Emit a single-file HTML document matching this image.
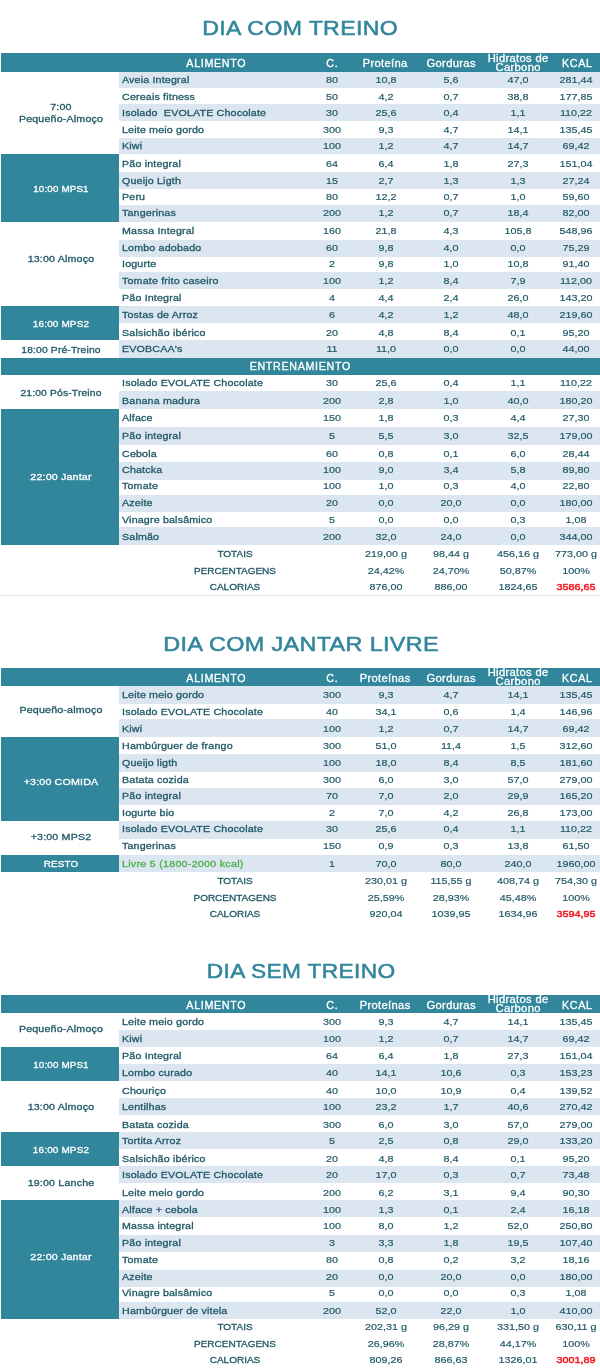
<!DOCTYPE html>
<html><head><meta charset="utf-8"><title>Dieta</title><style>
html,body{margin:0;padding:0;background:#fff}
body{will-change:transform;width:600px;height:1368px;position:relative;overflow:hidden;font-family:"Liberation Sans",sans-serif;font-size:9.4px;color:#215967}
.b{position:absolute}
.t{position:absolute;height:20px;line-height:20px;white-space:nowrap;-webkit-text-stroke:0.3px currentColor;font-size:9.4px;transform:scaleX(1.138)}
.l{transform-origin:0 50%}
.c{text-align:center}
.lc{letter-spacing:0.15px}
.caps{letter-spacing:0.65px;text-indent:0.65px}
.caps2{transform:scaleX(1.065);letter-spacing:0}
.hl{letter-spacing:0.3px;text-indent:0.3px}
.h.hl{transform:scaleX(1.1)}
.h{color:#fff;font-size:10.2px;transform:scaleX(1.05)}
.w{color:#fff}
.n{letter-spacing:0;transform:scaleX(1.15);-webkit-text-stroke:0.18px currentColor}
.g{color:#4db04a;letter-spacing:0.24px}
.red{color:#f2141c;-webkit-text-stroke:0.45px currentColor}
.title{position:absolute;width:600px;text-align:center;white-space:nowrap;letter-spacing:0.3px;text-indent:0.3px;font-size:20px;height:30px;line-height:30px;color:#31869b;-webkit-text-stroke:0.5px currentColor}
</style></head><body>
<div class="title" style="left:0px;top:13.07px;transform:scaleX(1.155)">DIA COM TREINO</div>
<div class="b" style="left:1px;top:53px;width:599px;height:19px;background:#31869b"></div>
<div class="t c h caps" style="left:65.7px;top:53.62px;width:300px;">ALIMENTO</div>
<div class="t c h caps" style="left:181.5px;top:53.62px;width:300px;">C.</div>
<div class="t c h hl" style="left:235.3px;top:53.62px;width:300px;">Proteína</div>
<div class="t c h hl" style="left:301.0px;top:53.62px;width:300px;">Gorduras</div>
<div class="b" style="left:457.6px;top:53px;width:120px;height:19px;overflow:hidden"><div class="t c h hl" style="left:0;top:-3.86px;width:120px">Hidratos de</div><div class="t c h hl" style="left:0;top:4.94px;width:120px">Carbono</div></div>
<div class="t c h caps" style="left:427.0px;top:53.62px;width:300px;">KCAL</div>
<div class="b" style="left:119px;top:72px;width:481px;height:16px;background:#dce6f1"></div>
<div class="t l lc " style="left:122.0px;top:70.04px;">Aveia Integral</div>
<div class="t c n" style="left:181.5px;top:70.04px;width:300px;">80</div>
<div class="t c n" style="left:236.0px;top:70.04px;width:300px;">10,8</div>
<div class="t c n" style="left:301.0px;top:70.04px;width:300px;">5,6</div>
<div class="t c n" style="left:368.0px;top:70.04px;width:300px;">47,0</div>
<div class="t c n" style="left:426.0px;top:70.04px;width:300px;">281,44</div>
<div class="t l lc " style="left:122.0px;top:86.74px;">Cereais fitness</div>
<div class="t c n" style="left:181.5px;top:86.74px;width:300px;">50</div>
<div class="t c n" style="left:236.0px;top:86.74px;width:300px;">4,2</div>
<div class="t c n" style="left:301.0px;top:86.74px;width:300px;">0,7</div>
<div class="t c n" style="left:368.0px;top:86.74px;width:300px;">38,8</div>
<div class="t c n" style="left:426.0px;top:86.74px;width:300px;">177,85</div>
<div class="b" style="left:119px;top:104px;width:481px;height:17px;background:#dce6f1"></div>
<div class="t l lc " style="left:122.0px;top:102.74px;">Isolado&nbsp; EVOLATE Chocolate</div>
<div class="t c n" style="left:181.5px;top:102.74px;width:300px;">30</div>
<div class="t c n" style="left:236.0px;top:102.74px;width:300px;">25,6</div>
<div class="t c n" style="left:301.0px;top:102.74px;width:300px;">0,4</div>
<div class="t c n" style="left:368.0px;top:102.74px;width:300px;">1,1</div>
<div class="t c n" style="left:426.0px;top:102.74px;width:300px;">110,22</div>
<div class="t l lc " style="left:122.0px;top:119.64px;">Leite meio gordo</div>
<div class="t c n" style="left:181.5px;top:119.64px;width:300px;">300</div>
<div class="t c n" style="left:236.0px;top:119.64px;width:300px;">9,3</div>
<div class="t c n" style="left:301.0px;top:119.64px;width:300px;">4,7</div>
<div class="t c n" style="left:368.0px;top:119.64px;width:300px;">14,1</div>
<div class="t c n" style="left:426.0px;top:119.64px;width:300px;">135,45</div>
<div class="b" style="left:119px;top:138px;width:481px;height:16px;background:#dce6f1"></div>
<div class="t l lc " style="left:122.0px;top:135.64px;">Kiwi</div>
<div class="t c n" style="left:181.5px;top:135.64px;width:300px;">100</div>
<div class="t c n" style="left:236.0px;top:135.64px;width:300px;">1,2</div>
<div class="t c n" style="left:301.0px;top:135.64px;width:300px;">4,7</div>
<div class="t c n" style="left:368.0px;top:135.64px;width:300px;">14,7</div>
<div class="t c n" style="left:426.0px;top:135.64px;width:300px;">69,42</div>
<div class="t l lc " style="left:122.0px;top:154.04px;">Pão integral</div>
<div class="t c n" style="left:181.5px;top:154.04px;width:300px;">64</div>
<div class="t c n" style="left:236.0px;top:154.04px;width:300px;">6,4</div>
<div class="t c n" style="left:301.0px;top:154.04px;width:300px;">1,8</div>
<div class="t c n" style="left:368.0px;top:154.04px;width:300px;">27,3</div>
<div class="t c n" style="left:426.0px;top:154.04px;width:300px;">151,04</div>
<div class="b" style="left:119px;top:172px;width:481px;height:17px;background:#dce6f1"></div>
<div class="t l lc " style="left:122.0px;top:170.74px;">Queijo Ligth</div>
<div class="t c n" style="left:181.5px;top:170.74px;width:300px;">15</div>
<div class="t c n" style="left:236.0px;top:170.74px;width:300px;">2,7</div>
<div class="t c n" style="left:301.0px;top:170.74px;width:300px;">1,3</div>
<div class="t c n" style="left:368.0px;top:170.74px;width:300px;">1,3</div>
<div class="t c n" style="left:426.0px;top:170.74px;width:300px;">27,24</div>
<div class="t l lc " style="left:122.0px;top:186.74px;">Peru</div>
<div class="t c n" style="left:181.5px;top:186.74px;width:300px;">80</div>
<div class="t c n" style="left:236.0px;top:186.74px;width:300px;">12,2</div>
<div class="t c n" style="left:301.0px;top:186.74px;width:300px;">0,7</div>
<div class="t c n" style="left:368.0px;top:186.74px;width:300px;">1,0</div>
<div class="t c n" style="left:426.0px;top:186.74px;width:300px;">59,60</div>
<div class="b" style="left:119px;top:205px;width:481px;height:17px;background:#dce6f1"></div>
<div class="t l lc " style="left:122.0px;top:203.44px;">Tangerinas</div>
<div class="t c n" style="left:181.5px;top:203.44px;width:300px;">200</div>
<div class="t c n" style="left:236.0px;top:203.44px;width:300px;">1,2</div>
<div class="t c n" style="left:301.0px;top:203.44px;width:300px;">0,7</div>
<div class="t c n" style="left:368.0px;top:203.44px;width:300px;">18,4</div>
<div class="t c n" style="left:426.0px;top:203.44px;width:300px;">82,00</div>
<div class="t l lc " style="left:122.0px;top:221.04px;">Massa Integral</div>
<div class="t c n" style="left:181.5px;top:221.04px;width:300px;">160</div>
<div class="t c n" style="left:236.0px;top:221.04px;width:300px;">21,8</div>
<div class="t c n" style="left:301.0px;top:221.04px;width:300px;">4,3</div>
<div class="t c n" style="left:368.0px;top:221.04px;width:300px;">105,8</div>
<div class="t c n" style="left:426.0px;top:221.04px;width:300px;">548,96</div>
<div class="b" style="left:119px;top:240px;width:481px;height:17px;background:#dce6f1"></div>
<div class="t l lc " style="left:122.0px;top:238.04px;">Lombo adobado</div>
<div class="t c n" style="left:181.5px;top:238.04px;width:300px;">60</div>
<div class="t c n" style="left:236.0px;top:238.04px;width:300px;">9,8</div>
<div class="t c n" style="left:301.0px;top:238.04px;width:300px;">4,0</div>
<div class="t c n" style="left:368.0px;top:238.04px;width:300px;">0,0</div>
<div class="t c n" style="left:426.0px;top:238.04px;width:300px;">75,29</div>
<div class="t l lc " style="left:122.0px;top:253.64px;">Iogurte</div>
<div class="t c n" style="left:181.5px;top:253.64px;width:300px;">2</div>
<div class="t c n" style="left:236.0px;top:253.64px;width:300px;">9,8</div>
<div class="t c n" style="left:301.0px;top:253.64px;width:300px;">1,0</div>
<div class="t c n" style="left:368.0px;top:253.64px;width:300px;">10,8</div>
<div class="t c n" style="left:426.0px;top:253.64px;width:300px;">91,40</div>
<div class="b" style="left:119px;top:272px;width:481px;height:17px;background:#dce6f1"></div>
<div class="t l lc " style="left:122.0px;top:270.74px;">Tomate frito caseiro</div>
<div class="t c n" style="left:181.5px;top:270.74px;width:300px;">100</div>
<div class="t c n" style="left:236.0px;top:270.74px;width:300px;">1,2</div>
<div class="t c n" style="left:301.0px;top:270.74px;width:300px;">8,4</div>
<div class="t c n" style="left:368.0px;top:270.74px;width:300px;">7,9</div>
<div class="t c n" style="left:426.0px;top:270.74px;width:300px;">112,00</div>
<div class="t l lc " style="left:122.0px;top:288.04px;">Pão Integral</div>
<div class="t c n" style="left:181.5px;top:288.04px;width:300px;">4</div>
<div class="t c n" style="left:236.0px;top:288.04px;width:300px;">4,4</div>
<div class="t c n" style="left:301.0px;top:288.04px;width:300px;">2,4</div>
<div class="t c n" style="left:368.0px;top:288.04px;width:300px;">26,0</div>
<div class="t c n" style="left:426.0px;top:288.04px;width:300px;">143,20</div>
<div class="b" style="left:119px;top:306px;width:481px;height:17px;background:#dce6f1"></div>
<div class="t l lc " style="left:122.0px;top:304.74px;">Tostas de Arroz</div>
<div class="t c n" style="left:181.5px;top:304.74px;width:300px;">6</div>
<div class="t c n" style="left:236.0px;top:304.74px;width:300px;">4,2</div>
<div class="t c n" style="left:301.0px;top:304.74px;width:300px;">1,2</div>
<div class="t c n" style="left:368.0px;top:304.74px;width:300px;">48,0</div>
<div class="t c n" style="left:426.0px;top:304.74px;width:300px;">219,60</div>
<div class="t l lc " style="left:122.0px;top:322.74px;">Salsichão ibérico</div>
<div class="t c n" style="left:181.5px;top:322.74px;width:300px;">20</div>
<div class="t c n" style="left:236.0px;top:322.74px;width:300px;">4,8</div>
<div class="t c n" style="left:301.0px;top:322.74px;width:300px;">8,4</div>
<div class="t c n" style="left:368.0px;top:322.74px;width:300px;">0,1</div>
<div class="t c n" style="left:426.0px;top:322.74px;width:300px;">95,20</div>
<div class="b" style="left:119px;top:340px;width:481px;height:18px;background:#dce6f1"></div>
<div class="t l lc " style="left:122.0px;top:339.44px;">EVOBCAA's</div>
<div class="t c n" style="left:181.5px;top:339.44px;width:300px;">11</div>
<div class="t c n" style="left:236.0px;top:339.44px;width:300px;">11,0</div>
<div class="t c n" style="left:301.0px;top:339.44px;width:300px;">0,0</div>
<div class="t c n" style="left:368.0px;top:339.44px;width:300px;">0,0</div>
<div class="t c n" style="left:426.0px;top:339.44px;width:300px;">44,00</div>
<div class="b" style="left:1px;top:358px;width:599px;height:17px;background:#31869b"></div>
<div class="t c h caps" style="left:150.3px;top:356.74px;width:300px;">ENTRENAMIENTO</div>
<div class="t l lc " style="left:122.0px;top:373.44px;">Isolado EVOLATE Chocolate</div>
<div class="t c n" style="left:181.5px;top:373.44px;width:300px;">30</div>
<div class="t c n" style="left:236.0px;top:373.44px;width:300px;">25,6</div>
<div class="t c n" style="left:301.0px;top:373.44px;width:300px;">0,4</div>
<div class="t c n" style="left:368.0px;top:373.44px;width:300px;">1,1</div>
<div class="t c n" style="left:426.0px;top:373.44px;width:300px;">110,22</div>
<div class="b" style="left:119px;top:391px;width:481px;height:18px;background:#dce6f1"></div>
<div class="t l lc " style="left:122.0px;top:390.74px;">Banana madura</div>
<div class="t c n" style="left:181.5px;top:390.74px;width:300px;">200</div>
<div class="t c n" style="left:236.0px;top:390.74px;width:300px;">2,8</div>
<div class="t c n" style="left:301.0px;top:390.74px;width:300px;">1,0</div>
<div class="t c n" style="left:368.0px;top:390.74px;width:300px;">40,0</div>
<div class="t c n" style="left:426.0px;top:390.74px;width:300px;">180,20</div>
<div class="t l lc " style="left:122.0px;top:407.94px;">Alface</div>
<div class="t c n" style="left:181.5px;top:407.94px;width:300px;">150</div>
<div class="t c n" style="left:236.0px;top:407.94px;width:300px;">1,8</div>
<div class="t c n" style="left:301.0px;top:407.94px;width:300px;">0,3</div>
<div class="t c n" style="left:368.0px;top:407.94px;width:300px;">4,4</div>
<div class="t c n" style="left:426.0px;top:407.94px;width:300px;">27,30</div>
<div class="b" style="left:119px;top:427px;width:481px;height:18px;background:#dce6f1"></div>
<div class="t l lc " style="left:122.0px;top:426.24px;">Pão integral</div>
<div class="t c n" style="left:181.5px;top:426.24px;width:300px;">5</div>
<div class="t c n" style="left:236.0px;top:426.24px;width:300px;">5,5</div>
<div class="t c n" style="left:301.0px;top:426.24px;width:300px;">3,0</div>
<div class="t c n" style="left:368.0px;top:426.24px;width:300px;">32,5</div>
<div class="t c n" style="left:426.0px;top:426.24px;width:300px;">179,00</div>
<div class="t l lc " style="left:122.0px;top:443.94px;">Cebola</div>
<div class="t c n" style="left:181.5px;top:443.94px;width:300px;">60</div>
<div class="t c n" style="left:236.0px;top:443.94px;width:300px;">0,8</div>
<div class="t c n" style="left:301.0px;top:443.94px;width:300px;">0,1</div>
<div class="t c n" style="left:368.0px;top:443.94px;width:300px;">6,0</div>
<div class="t c n" style="left:426.0px;top:443.94px;width:300px;">28,44</div>
<div class="b" style="left:119px;top:462px;width:481px;height:18px;background:#dce6f1"></div>
<div class="t l lc " style="left:122.0px;top:460.04px;">Chatcka</div>
<div class="t c n" style="left:181.5px;top:460.04px;width:300px;">100</div>
<div class="t c n" style="left:236.0px;top:460.04px;width:300px;">9,0</div>
<div class="t c n" style="left:301.0px;top:460.04px;width:300px;">3,4</div>
<div class="t c n" style="left:368.0px;top:460.04px;width:300px;">5,8</div>
<div class="t c n" style="left:426.0px;top:460.04px;width:300px;">89,80</div>
<div class="t l lc " style="left:122.0px;top:475.74px;">Tomate</div>
<div class="t c n" style="left:181.5px;top:475.74px;width:300px;">100</div>
<div class="t c n" style="left:236.0px;top:475.74px;width:300px;">1,0</div>
<div class="t c n" style="left:301.0px;top:475.74px;width:300px;">0,3</div>
<div class="t c n" style="left:368.0px;top:475.74px;width:300px;">4,0</div>
<div class="t c n" style="left:426.0px;top:475.74px;width:300px;">22,80</div>
<div class="b" style="left:119px;top:495px;width:481px;height:17px;background:#dce6f1"></div>
<div class="t l lc " style="left:122.0px;top:493.14px;">Azeite</div>
<div class="t c n" style="left:181.5px;top:493.14px;width:300px;">20</div>
<div class="t c n" style="left:236.0px;top:493.14px;width:300px;">0,0</div>
<div class="t c n" style="left:301.0px;top:493.14px;width:300px;">20,0</div>
<div class="t c n" style="left:368.0px;top:493.14px;width:300px;">0,0</div>
<div class="t c n" style="left:426.0px;top:493.14px;width:300px;">180,00</div>
<div class="t l lc " style="left:122.0px;top:509.74px;">Vinagre balsâmico</div>
<div class="t c n" style="left:181.5px;top:509.74px;width:300px;">5</div>
<div class="t c n" style="left:236.0px;top:509.74px;width:300px;">0,0</div>
<div class="t c n" style="left:301.0px;top:509.74px;width:300px;">0,0</div>
<div class="t c n" style="left:368.0px;top:509.74px;width:300px;">0,3</div>
<div class="t c n" style="left:426.0px;top:509.74px;width:300px;">1,08</div>
<div class="b" style="left:119px;top:527px;width:481px;height:18px;background:#dce6f1"></div>
<div class="t l lc " style="left:122.0px;top:526.74px;">Salmão</div>
<div class="t c n" style="left:181.5px;top:526.74px;width:300px;">200</div>
<div class="t c n" style="left:236.0px;top:526.74px;width:300px;">32,0</div>
<div class="t c n" style="left:301.0px;top:526.74px;width:300px;">24,0</div>
<div class="t c n" style="left:368.0px;top:526.74px;width:300px;">0,0</div>
<div class="t c n" style="left:426.0px;top:526.74px;width:300px;">344,00</div>
<div class="t c lc " style="left:-88.7px;top:97.24px;width:300px;">7:00</div>
<div class="t c lc " style="left:-88.7px;top:109.04px;width:300px;">Pequeño-Almoço</div>
<div class="b" style="left:1px;top:154px;width:118px;height:68px;background:#31869b"></div>
<div class="t c lc w" style="left:-88.7px;top:179.14px;width:300px;transform:scaleX(1.045);">10:00 MPS1</div>
<div class="t c lc " style="left:-88.7px;top:249.14px;width:300px;">13:00 Almoço</div>
<div class="b" style="left:1px;top:306px;width:118px;height:34px;background:#31869b"></div>
<div class="t c lc w" style="left:-88.7px;top:314.24px;width:300px;transform:scaleX(1.06);">16:00 MPS2</div>
<div class="t c lc " style="left:-88.7px;top:340.24px;width:300px;transform:scaleX(1.097);">18:00 Pré-Treino</div>
<div class="t c lc " style="left:-88.7px;top:382.64px;width:300px;transform:scaleX(1.097);">21:00 Pós-Treino</div>
<div class="b" style="left:1px;top:409px;width:118px;height:136px;background:#31869b"></div>
<div class="t c lc w" style="left:-88.7px;top:467.44px;width:300px;">22:00 Jantar</div>
<div class="t c caps2" style="left:85.0px;top:544.44px;width:300px;">TOTAIS</div>
<div class="t c n" style="left:236.0px;top:544.44px;width:300px;">219,00 g</div>
<div class="t c n" style="left:301.0px;top:544.44px;width:300px;">98,44 g</div>
<div class="t c n" style="left:368.3px;top:544.44px;width:300px;">456,16 g</div>
<div class="t c n" style="left:426.0px;top:544.44px;width:300px;">773,00 g</div>
<div class="t c caps2" style="left:85.0px;top:561.14px;width:300px;">PERCENTAGENS</div>
<div class="t c n" style="left:236.0px;top:561.14px;width:300px;">24,42%</div>
<div class="t c n" style="left:301.0px;top:561.14px;width:300px;">24,70%</div>
<div class="t c n" style="left:368.3px;top:561.14px;width:300px;">50,87%</div>
<div class="t c n" style="left:426.0px;top:561.14px;width:300px;">100%</div>
<div class="t c caps2" style="left:85.0px;top:577.34px;width:300px;">CALORIAS</div>
<div class="t c n" style="left:236.0px;top:577.34px;width:300px;">876,00</div>
<div class="t c n" style="left:301.0px;top:577.34px;width:300px;">886,00</div>
<div class="t c n" style="left:368.3px;top:577.34px;width:300px;">1824,65</div>
<div class="t c n red" style="left:426.0px;top:577.34px;width:300px;">3586,65</div>
<div class="b" style="left:0;top:595px;width:600px;height:1px;background:#e6eaec"></div>
<div class="title" style="left:0.7px;top:628.57px;transform:scaleX(1.17)">DIA COM JANTAR LIVRE</div>
<div class="b" style="left:1px;top:668px;width:599px;height:18px;background:#31869b"></div>
<div class="t c h caps" style="left:65.7px;top:668.62px;width:300px;">ALIMENTO</div>
<div class="t c h caps" style="left:181.5px;top:668.62px;width:300px;">C.</div>
<div class="t c h hl" style="left:235.3px;top:668.62px;width:300px;">Proteínas</div>
<div class="t c h hl" style="left:301.0px;top:668.62px;width:300px;">Gorduras</div>
<div class="b" style="left:457.6px;top:668px;width:120px;height:18px;overflow:hidden"><div class="t c h hl" style="left:0;top:-4.86px;width:120px">Hidratos de</div><div class="t c h hl" style="left:0;top:3.94px;width:120px">Carbono</div></div>
<div class="t c h caps" style="left:427.0px;top:668.62px;width:300px;">KCAL</div>
<div class="b" style="left:119px;top:686px;width:481px;height:18px;background:#dce6f1"></div>
<div class="t l lc " style="left:122.0px;top:684.74px;">Leite meio gordo</div>
<div class="t c n" style="left:181.5px;top:684.74px;width:300px;">300</div>
<div class="t c n" style="left:236.0px;top:684.74px;width:300px;">9,3</div>
<div class="t c n" style="left:301.0px;top:684.74px;width:300px;">4,7</div>
<div class="t c n" style="left:368.0px;top:684.74px;width:300px;">14,1</div>
<div class="t c n" style="left:426.0px;top:684.74px;width:300px;">135,45</div>
<div class="t l lc " style="left:122.0px;top:702.04px;">Isolado EVOLATE Chocolate</div>
<div class="t c n" style="left:181.5px;top:702.04px;width:300px;">40</div>
<div class="t c n" style="left:236.0px;top:702.04px;width:300px;">34,1</div>
<div class="t c n" style="left:301.0px;top:702.04px;width:300px;">0,6</div>
<div class="t c n" style="left:368.0px;top:702.04px;width:300px;">1,4</div>
<div class="t c n" style="left:426.0px;top:702.04px;width:300px;">146,96</div>
<div class="b" style="left:119px;top:719px;width:481px;height:18px;background:#dce6f1"></div>
<div class="t l lc " style="left:122.0px;top:718.74px;">Kiwi</div>
<div class="t c n" style="left:181.5px;top:718.74px;width:300px;">100</div>
<div class="t c n" style="left:236.0px;top:718.74px;width:300px;">1,2</div>
<div class="t c n" style="left:301.0px;top:718.74px;width:300px;">0,7</div>
<div class="t c n" style="left:368.0px;top:718.74px;width:300px;">14,7</div>
<div class="t c n" style="left:426.0px;top:718.74px;width:300px;">69,42</div>
<div class="t l lc " style="left:122.0px;top:736.04px;">Hambúrguer de frango</div>
<div class="t c n" style="left:181.5px;top:736.04px;width:300px;">300</div>
<div class="t c n" style="left:236.0px;top:736.04px;width:300px;">51,0</div>
<div class="t c n" style="left:301.0px;top:736.04px;width:300px;">11,4</div>
<div class="t c n" style="left:368.0px;top:736.04px;width:300px;">1,5</div>
<div class="t c n" style="left:426.0px;top:736.04px;width:300px;">312,60</div>
<div class="b" style="left:119px;top:754px;width:481px;height:18px;background:#dce6f1"></div>
<div class="t l lc " style="left:122.0px;top:752.74px;">Queijo ligth</div>
<div class="t c n" style="left:181.5px;top:752.74px;width:300px;">100</div>
<div class="t c n" style="left:236.0px;top:752.74px;width:300px;">18,0</div>
<div class="t c n" style="left:301.0px;top:752.74px;width:300px;">8,4</div>
<div class="t c n" style="left:368.0px;top:752.74px;width:300px;">8,5</div>
<div class="t c n" style="left:426.0px;top:752.74px;width:300px;">181,60</div>
<div class="t l lc " style="left:122.0px;top:769.74px;">Batata cozida</div>
<div class="t c n" style="left:181.5px;top:769.74px;width:300px;">300</div>
<div class="t c n" style="left:236.0px;top:769.74px;width:300px;">6,0</div>
<div class="t c n" style="left:301.0px;top:769.74px;width:300px;">3,0</div>
<div class="t c n" style="left:368.0px;top:769.74px;width:300px;">57,0</div>
<div class="t c n" style="left:426.0px;top:769.74px;width:300px;">279,00</div>
<div class="b" style="left:119px;top:787.5px;width:481px;height:17.5px;background:#dce6f1"></div>
<div class="t l lc " style="left:122.0px;top:785.74px;">Pão integral</div>
<div class="t c n" style="left:181.5px;top:785.74px;width:300px;">70</div>
<div class="t c n" style="left:236.0px;top:785.74px;width:300px;">7,0</div>
<div class="t c n" style="left:301.0px;top:785.74px;width:300px;">2,0</div>
<div class="t c n" style="left:368.0px;top:785.74px;width:300px;">29,9</div>
<div class="t c n" style="left:426.0px;top:785.74px;width:300px;">165,20</div>
<div class="t l lc " style="left:122.0px;top:802.74px;">Iogurte bio</div>
<div class="t c n" style="left:181.5px;top:802.74px;width:300px;">2</div>
<div class="t c n" style="left:236.0px;top:802.74px;width:300px;">7,0</div>
<div class="t c n" style="left:301.0px;top:802.74px;width:300px;">4,2</div>
<div class="t c n" style="left:368.0px;top:802.74px;width:300px;">26,8</div>
<div class="t c n" style="left:426.0px;top:802.74px;width:300px;">173,00</div>
<div class="b" style="left:119px;top:821px;width:481px;height:18px;background:#dce6f1"></div>
<div class="t l lc " style="left:122.0px;top:819.44px;">Isolado EVOLATE Chocolate</div>
<div class="t c n" style="left:181.5px;top:819.44px;width:300px;">30</div>
<div class="t c n" style="left:236.0px;top:819.44px;width:300px;">25,6</div>
<div class="t c n" style="left:301.0px;top:819.44px;width:300px;">0,4</div>
<div class="t c n" style="left:368.0px;top:819.44px;width:300px;">1,1</div>
<div class="t c n" style="left:426.0px;top:819.44px;width:300px;">110,22</div>
<div class="t l lc " style="left:122.0px;top:836.04px;">Tangerinas</div>
<div class="t c n" style="left:181.5px;top:836.04px;width:300px;">150</div>
<div class="t c n" style="left:236.0px;top:836.04px;width:300px;">0,9</div>
<div class="t c n" style="left:301.0px;top:836.04px;width:300px;">0,3</div>
<div class="t c n" style="left:368.0px;top:836.04px;width:300px;">13,8</div>
<div class="t c n" style="left:426.0px;top:836.04px;width:300px;">61,50</div>
<div class="b" style="left:119px;top:855px;width:481px;height:17px;background:#dce6f1"></div>
<div class="t l lc g" style="left:122.0px;top:854.04px;">Livre 5 (1800-2000 kcal)</div>
<div class="t c n" style="left:181.5px;top:854.04px;width:300px;">1</div>
<div class="t c n" style="left:236.0px;top:854.04px;width:300px;">70,0</div>
<div class="t c n" style="left:301.0px;top:854.04px;width:300px;">80,0</div>
<div class="t c n" style="left:368.0px;top:854.04px;width:300px;">240,0</div>
<div class="t c n" style="left:426.0px;top:854.04px;width:300px;">1960,00</div>
<div class="t c lc " style="left:-88.7px;top:700.34px;width:300px;">Pequeño-almoço</div>
<div class="b" style="left:1px;top:737px;width:118px;height:84px;background:#31869b"></div>
<div class="t c lc w" style="left:-88.7px;top:771.74px;width:300px;">+3:00 COMIDA</div>
<div class="t c lc " style="left:-88.7px;top:827.34px;width:300px;">+3:00 MPS2</div>
<div class="b" style="left:1px;top:855px;width:118px;height:17px;background:#31869b"></div>
<div class="t c lc w" style="left:-88.7px;top:854.14px;width:300px;transform:scaleX(1.05);">RESTO</div>
<div class="t c caps2" style="left:85.0px;top:870.84px;width:300px;">TOTAIS</div>
<div class="t c n" style="left:236.0px;top:870.84px;width:300px;">230,01 g</div>
<div class="t c n" style="left:301.0px;top:870.84px;width:300px;">115,55 g</div>
<div class="t c n" style="left:368.3px;top:870.84px;width:300px;">408,74 g</div>
<div class="t c n" style="left:426.0px;top:870.84px;width:300px;">754,30 g</div>
<div class="t c caps2" style="left:85.0px;top:888.14px;width:300px;">PORCENTAGENS</div>
<div class="t c n" style="left:236.0px;top:888.14px;width:300px;">25,59%</div>
<div class="t c n" style="left:301.0px;top:888.14px;width:300px;">28,93%</div>
<div class="t c n" style="left:368.3px;top:888.14px;width:300px;">45,48%</div>
<div class="t c n" style="left:426.0px;top:888.14px;width:300px;">100%</div>
<div class="t c caps2" style="left:85.0px;top:904.34px;width:300px;">CALORIAS</div>
<div class="t c n" style="left:236.0px;top:904.34px;width:300px;">920,04</div>
<div class="t c n" style="left:301.0px;top:904.34px;width:300px;">1039,95</div>
<div class="t c n" style="left:368.3px;top:904.34px;width:300px;">1634,96</div>
<div class="t c n red" style="left:426.0px;top:904.34px;width:300px;">3594,95</div>
<div class="title" style="left:1.1px;top:955.77px;transform:scaleX(1.137)">DIA SEM TREINO</div>
<div class="b" style="left:1px;top:995px;width:599px;height:17.5px;background:#31869b"></div>
<div class="t c h caps" style="left:65.7px;top:995.62px;width:300px;">ALIMENTO</div>
<div class="t c h caps" style="left:181.5px;top:995.62px;width:300px;">C.</div>
<div class="t c h hl" style="left:235.3px;top:995.62px;width:300px;">Proteínas</div>
<div class="t c h hl" style="left:301.0px;top:995.62px;width:300px;">Gorduras</div>
<div class="b" style="left:457.6px;top:995px;width:120px;height:17.5px;overflow:hidden"><div class="t c h hl" style="left:0;top:-4.86px;width:120px">Hidratos de</div><div class="t c h hl" style="left:0;top:4.24px;width:120px">Carbono</div></div>
<div class="t c h caps" style="left:427.0px;top:995.62px;width:300px;">KCAL</div>
<div class="t l lc " style="left:122.0px;top:1012.04px;">Leite meio gordo</div>
<div class="t c n" style="left:181.5px;top:1012.04px;width:300px;">300</div>
<div class="t c n" style="left:236.0px;top:1012.04px;width:300px;">9,3</div>
<div class="t c n" style="left:301.0px;top:1012.04px;width:300px;">4,7</div>
<div class="t c n" style="left:368.0px;top:1012.04px;width:300px;">14,1</div>
<div class="t c n" style="left:426.0px;top:1012.04px;width:300px;">135,45</div>
<div class="b" style="left:119px;top:1030px;width:481px;height:17px;background:#dce6f1"></div>
<div class="t l lc " style="left:122.0px;top:1029.44px;">Kiwi</div>
<div class="t c n" style="left:181.5px;top:1029.44px;width:300px;">100</div>
<div class="t c n" style="left:236.0px;top:1029.44px;width:300px;">1,2</div>
<div class="t c n" style="left:301.0px;top:1029.44px;width:300px;">0,7</div>
<div class="t c n" style="left:368.0px;top:1029.44px;width:300px;">14,7</div>
<div class="t c n" style="left:426.0px;top:1029.44px;width:300px;">69,42</div>
<div class="t l lc " style="left:122.0px;top:1045.74px;">Pão Integral</div>
<div class="t c n" style="left:181.5px;top:1045.74px;width:300px;">64</div>
<div class="t c n" style="left:236.0px;top:1045.74px;width:300px;">6,4</div>
<div class="t c n" style="left:301.0px;top:1045.74px;width:300px;">1,8</div>
<div class="t c n" style="left:368.0px;top:1045.74px;width:300px;">27,3</div>
<div class="t c n" style="left:426.0px;top:1045.74px;width:300px;">151,04</div>
<div class="b" style="left:119px;top:1064px;width:481px;height:17px;background:#dce6f1"></div>
<div class="t l lc " style="left:122.0px;top:1063.44px;">Lombo curado</div>
<div class="t c n" style="left:181.5px;top:1063.44px;width:300px;">40</div>
<div class="t c n" style="left:236.0px;top:1063.44px;width:300px;">14,1</div>
<div class="t c n" style="left:301.0px;top:1063.44px;width:300px;">10,6</div>
<div class="t c n" style="left:368.0px;top:1063.44px;width:300px;">0,3</div>
<div class="t c n" style="left:426.0px;top:1063.44px;width:300px;">153,23</div>
<div class="t l lc " style="left:122.0px;top:1080.74px;">Chouriço</div>
<div class="t c n" style="left:181.5px;top:1080.74px;width:300px;">40</div>
<div class="t c n" style="left:236.0px;top:1080.74px;width:300px;">10,0</div>
<div class="t c n" style="left:301.0px;top:1080.74px;width:300px;">10,9</div>
<div class="t c n" style="left:368.0px;top:1080.74px;width:300px;">0,4</div>
<div class="t c n" style="left:426.0px;top:1080.74px;width:300px;">139,52</div>
<div class="b" style="left:119px;top:1098px;width:481px;height:17px;background:#dce6f1"></div>
<div class="t l lc " style="left:122.0px;top:1096.74px;">Lentilhas</div>
<div class="t c n" style="left:181.5px;top:1096.74px;width:300px;">100</div>
<div class="t c n" style="left:236.0px;top:1096.74px;width:300px;">23,2</div>
<div class="t c n" style="left:301.0px;top:1096.74px;width:300px;">1,7</div>
<div class="t c n" style="left:368.0px;top:1096.74px;width:300px;">40,6</div>
<div class="t c n" style="left:426.0px;top:1096.74px;width:300px;">270,42</div>
<div class="t l lc " style="left:122.0px;top:1114.74px;">Batata cozida</div>
<div class="t c n" style="left:181.5px;top:1114.74px;width:300px;">300</div>
<div class="t c n" style="left:236.0px;top:1114.74px;width:300px;">6,0</div>
<div class="t c n" style="left:301.0px;top:1114.74px;width:300px;">3,0</div>
<div class="t c n" style="left:368.0px;top:1114.74px;width:300px;">57,0</div>
<div class="t c n" style="left:426.0px;top:1114.74px;width:300px;">279,00</div>
<div class="b" style="left:119px;top:1132px;width:481px;height:17px;background:#dce6f1"></div>
<div class="t l lc " style="left:122.0px;top:1130.74px;">Tortita Arroz</div>
<div class="t c n" style="left:181.5px;top:1130.74px;width:300px;">5</div>
<div class="t c n" style="left:236.0px;top:1130.74px;width:300px;">2,5</div>
<div class="t c n" style="left:301.0px;top:1130.74px;width:300px;">0,8</div>
<div class="t c n" style="left:368.0px;top:1130.74px;width:300px;">29,0</div>
<div class="t c n" style="left:426.0px;top:1130.74px;width:300px;">133,20</div>
<div class="t l lc " style="left:122.0px;top:1148.74px;">Salsichão ibérico</div>
<div class="t c n" style="left:181.5px;top:1148.74px;width:300px;">20</div>
<div class="t c n" style="left:236.0px;top:1148.74px;width:300px;">4,8</div>
<div class="t c n" style="left:301.0px;top:1148.74px;width:300px;">8,4</div>
<div class="t c n" style="left:368.0px;top:1148.74px;width:300px;">0,1</div>
<div class="t c n" style="left:426.0px;top:1148.74px;width:300px;">95,20</div>
<div class="b" style="left:119px;top:1166px;width:481px;height:17px;background:#dce6f1"></div>
<div class="t l lc " style="left:122.0px;top:1164.74px;">Isolado EVOLATE Chocolate</div>
<div class="t c n" style="left:181.5px;top:1164.74px;width:300px;">20</div>
<div class="t c n" style="left:236.0px;top:1164.74px;width:300px;">17,0</div>
<div class="t c n" style="left:301.0px;top:1164.74px;width:300px;">0,3</div>
<div class="t c n" style="left:368.0px;top:1164.74px;width:300px;">0,7</div>
<div class="t c n" style="left:426.0px;top:1164.74px;width:300px;">73,48</div>
<div class="t l lc " style="left:122.0px;top:1182.74px;">Leite meio gordo</div>
<div class="t c n" style="left:181.5px;top:1182.74px;width:300px;">200</div>
<div class="t c n" style="left:236.0px;top:1182.74px;width:300px;">6,2</div>
<div class="t c n" style="left:301.0px;top:1182.74px;width:300px;">3,1</div>
<div class="t c n" style="left:368.0px;top:1182.74px;width:300px;">9,4</div>
<div class="t c n" style="left:426.0px;top:1182.74px;width:300px;">90,30</div>
<div class="b" style="left:119px;top:1200px;width:481px;height:17px;background:#dce6f1"></div>
<div class="t l lc " style="left:122.0px;top:1200.04px;">Alface + cebola</div>
<div class="t c n" style="left:181.5px;top:1200.04px;width:300px;">100</div>
<div class="t c n" style="left:236.0px;top:1200.04px;width:300px;">1,3</div>
<div class="t c n" style="left:301.0px;top:1200.04px;width:300px;">0,1</div>
<div class="t c n" style="left:368.0px;top:1200.04px;width:300px;">2,4</div>
<div class="t c n" style="left:426.0px;top:1200.04px;width:300px;">16,18</div>
<div class="t l lc " style="left:122.0px;top:1216.04px;">Massa integral</div>
<div class="t c n" style="left:181.5px;top:1216.04px;width:300px;">100</div>
<div class="t c n" style="left:236.0px;top:1216.04px;width:300px;">8,0</div>
<div class="t c n" style="left:301.0px;top:1216.04px;width:300px;">1,2</div>
<div class="t c n" style="left:368.0px;top:1216.04px;width:300px;">52,0</div>
<div class="t c n" style="left:426.0px;top:1216.04px;width:300px;">250,80</div>
<div class="b" style="left:119px;top:1235px;width:481px;height:17px;background:#dce6f1"></div>
<div class="t l lc " style="left:122.0px;top:1232.74px;">Pão integral</div>
<div class="t c n" style="left:181.5px;top:1232.74px;width:300px;">3</div>
<div class="t c n" style="left:236.0px;top:1232.74px;width:300px;">3,3</div>
<div class="t c n" style="left:301.0px;top:1232.74px;width:300px;">1,8</div>
<div class="t c n" style="left:368.0px;top:1232.74px;width:300px;">19,5</div>
<div class="t c n" style="left:426.0px;top:1232.74px;width:300px;">107,40</div>
<div class="t l lc " style="left:122.0px;top:1250.04px;">Tomate</div>
<div class="t c n" style="left:181.5px;top:1250.04px;width:300px;">80</div>
<div class="t c n" style="left:236.0px;top:1250.04px;width:300px;">0,8</div>
<div class="t c n" style="left:301.0px;top:1250.04px;width:300px;">0,2</div>
<div class="t c n" style="left:368.0px;top:1250.04px;width:300px;">3,2</div>
<div class="t c n" style="left:426.0px;top:1250.04px;width:300px;">18,16</div>
<div class="b" style="left:119px;top:1270px;width:481px;height:16.5px;background:#dce6f1"></div>
<div class="t l lc " style="left:122.0px;top:1266.74px;">Azeite</div>
<div class="t c n" style="left:181.5px;top:1266.74px;width:300px;">20</div>
<div class="t c n" style="left:236.0px;top:1266.74px;width:300px;">0,0</div>
<div class="t c n" style="left:301.0px;top:1266.74px;width:300px;">20,0</div>
<div class="t c n" style="left:368.0px;top:1266.74px;width:300px;">0,0</div>
<div class="t c n" style="left:426.0px;top:1266.74px;width:300px;">180,00</div>
<div class="t l lc " style="left:122.0px;top:1283.44px;">Vinagre balsâmico</div>
<div class="t c n" style="left:181.5px;top:1283.44px;width:300px;">5</div>
<div class="t c n" style="left:236.0px;top:1283.44px;width:300px;">0,0</div>
<div class="t c n" style="left:301.0px;top:1283.44px;width:300px;">0,0</div>
<div class="t c n" style="left:368.0px;top:1283.44px;width:300px;">0,3</div>
<div class="t c n" style="left:426.0px;top:1283.44px;width:300px;">1,08</div>
<div class="b" style="left:119px;top:1302px;width:481px;height:17px;background:#dce6f1"></div>
<div class="t l lc " style="left:122.0px;top:1300.74px;">Hambúrguer de vitela</div>
<div class="t c n" style="left:181.5px;top:1300.74px;width:300px;">200</div>
<div class="t c n" style="left:236.0px;top:1300.74px;width:300px;">52,0</div>
<div class="t c n" style="left:301.0px;top:1300.74px;width:300px;">22,0</div>
<div class="t c n" style="left:368.0px;top:1300.74px;width:300px;">1,0</div>
<div class="t c n" style="left:426.0px;top:1300.74px;width:300px;">410,00</div>
<div class="t c lc " style="left:-88.7px;top:1019.34px;width:300px;">Pequeño-Almoço</div>
<div class="b" style="left:1px;top:1047px;width:118px;height:34px;background:#31869b"></div>
<div class="t c lc w" style="left:-88.7px;top:1055.14px;width:300px;transform:scaleX(1.045);">10:00 MPS1</div>
<div class="t c lc " style="left:-88.7px;top:1097.34px;width:300px;">13:00 Almoço</div>
<div class="b" style="left:1px;top:1132px;width:118px;height:34px;background:#31869b"></div>
<div class="t c lc w" style="left:-88.7px;top:1139.54px;width:300px;transform:scaleX(1.06);">16:00 MPS2</div>
<div class="t c lc " style="left:-88.7px;top:1173.34px;width:300px;">19:00 Lanche</div>
<div class="b" style="left:1px;top:1200px;width:118px;height:119px;background:#31869b"></div>
<div class="t c lc w" style="left:-88.7px;top:1247.34px;width:300px;">22:00 Jantar</div>
<div class="t c caps2" style="left:85.0px;top:1317.24px;width:300px;">TOTAIS</div>
<div class="t c n" style="left:236.0px;top:1317.24px;width:300px;">202,31 g</div>
<div class="t c n" style="left:301.0px;top:1317.24px;width:300px;">96,29 g</div>
<div class="t c n" style="left:368.3px;top:1317.24px;width:300px;">331,50 g</div>
<div class="t c n" style="left:426.0px;top:1317.24px;width:300px;">630,11 g</div>
<div class="t c caps2" style="left:85.0px;top:1334.14px;width:300px;">PERCENTAGENS</div>
<div class="t c n" style="left:236.0px;top:1334.14px;width:300px;">26,96%</div>
<div class="t c n" style="left:301.0px;top:1334.14px;width:300px;">28,87%</div>
<div class="t c n" style="left:368.3px;top:1334.14px;width:300px;">44,17%</div>
<div class="t c n" style="left:426.0px;top:1334.14px;width:300px;">100%</div>
<div class="t c caps2" style="left:85.0px;top:1350.24px;width:300px;">CALORIAS</div>
<div class="t c n" style="left:236.0px;top:1350.24px;width:300px;">809,26</div>
<div class="t c n" style="left:301.0px;top:1350.24px;width:300px;">866,63</div>
<div class="t c n" style="left:368.3px;top:1350.24px;width:300px;">1326,01</div>
<div class="t c n red" style="left:426.0px;top:1350.24px;width:300px;">3001,89</div>
</body></html>
